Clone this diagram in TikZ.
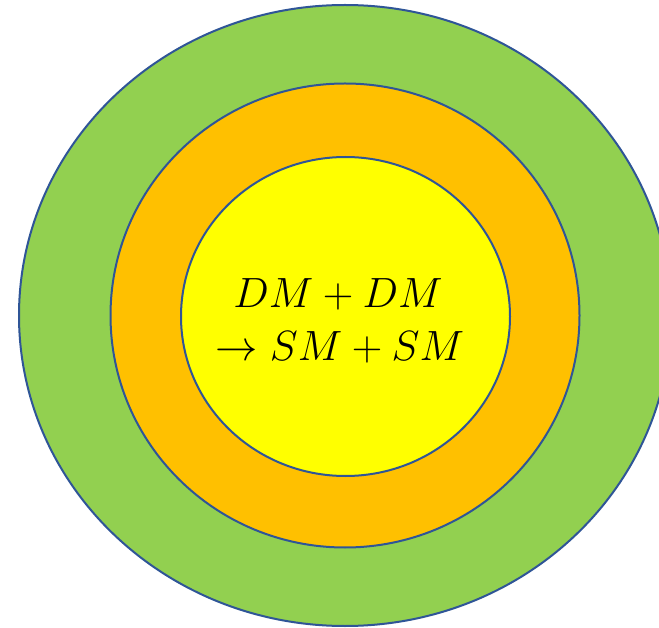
\documentclass[tikz,border=0pt]{standalone}
\definecolor{ringgreen}{HTML}{92D050}
\definecolor{ringorange}{HTML}{FFC000}
\definecolor{ringyellow}{HTML}{FFFF00}
\definecolor{ringedge}{HTML}{2F5597}
\tikzset{
    ring/.style={draw=ringedge, line width=2pt},
    eqtext/.style={anchor=base, inner sep=0pt, font=\Huge, scale=1.7}
}
\begin{document}
\begin{tikzpicture}[x=1pt, y=-1pt]
    % Frame of the picture (the outer ring runs past the right edge)
    \clip (0,0) rectangle (659,628);
    \fill[white] (0,0) rectangle (659,628);

    % Centre of the rings
    \coordinate (O) at (345,315.5);

    % Rings, from the outside in
    \draw[ring, fill=ringgreen] (O) ellipse [x radius=326, y radius=310.5];
    \draw[ring, fill=ringorange] (O) ellipse [x radius=234.5, y radius=232];
    \draw[ring, fill=ringyellow] (345.5,316.5) ellipse [x radius=164.5, y radius=159.5];

    % Annihilation
    \node[eqtext] (dm) at (338,307.5) {$DM+DM$};
    \node[eqtext] (sm) at (340,360.5) {$\to SM+SM$};
\end{tikzpicture}
\end{document}
